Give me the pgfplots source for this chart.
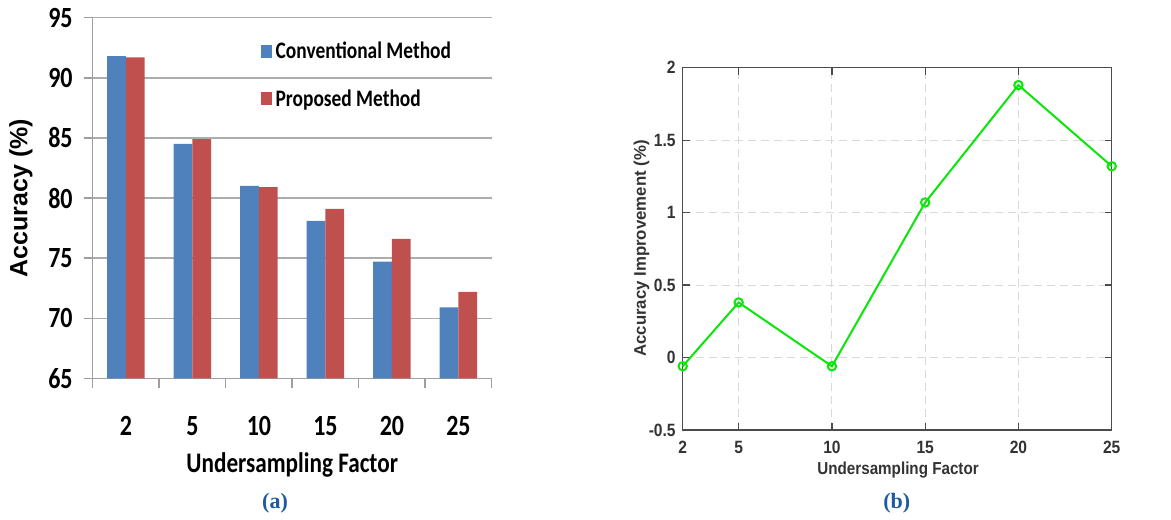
\documentclass[border=0pt]{standalone}
\usepackage{pgfplots}
\pgfplotsset{compat=1.18}
\usepackage{graphicx}
\usepackage{fontspec}
\newfontfamily\calfont{Carlito}
\newfontfamily\arialfont{Liberation Sans}
\newfontfamily\timesfont{Liberation Serif}
\newcommand{\tall}[1]{\scalebox{1}[1.22]{#1}}
\newcommand{\tallb}[1]{\scalebox{1}[1.14]{#1}}
\definecolor{xblue}{RGB}{79,129,189}
\definecolor{xred}{RGB}{192,80,77}
\definecolor{mgreen}{RGB}{10,230,10}
\definecolor{capblue}{RGB}{30,90,160}
\begin{document}
\begin{tikzpicture}
\path (0,0) rectangle (585.5pt,258pt);
% ---------------- left panel (a) ----------------
\begin{axis}[
  at={(46.35pt,68.85pt)}, anchor=south west,
  scale only axis, width=199.5pt, height=180.3pt,
  xmin=-0.5, xmax=5.5, ymin=65, ymax=95, enlargelimits=false,
  clip mode=individual,
  ytick={65,70,...,95},
  axis x line*=bottom, axis y line*=left,
  axis line style={draw=gray!75, line width=0.7pt, -},
  ymajorgrids, grid style={draw=gray!65, line width=0.7pt},
  xtick={-0.5,0.5,1.5,2.5,3.5,4.5,5.5},
  x tick label as interval,
  xticklabels={\tall{2},\tall{5},\tall{10},\tall{15},\tall{20},\tall{25}},
  tick style={draw=gray!75, line width=0.7pt},
  major tick length=4.5pt, tick align=outside,
  /pgf/number format/assume math mode=true,
  yticklabel={\tall{\pgfmathprintnumber{\tick}}},
  ticklabel style={font=\calfont\bfseries\fontsize{12}{14}\selectfont},
  yticklabel style={xshift=-2pt},
  xticklabel style={yshift=-11pt},
  xlabel={\tall{Undersampling Factor}},
  xlabel style={font=\calfont\bfseries\fontsize{11.6}{14}\selectfont, at={(axis description cs:0.5,-0.24)}, anchor=center},
  ylabel={Accuracy (\%)},
  ylabel style={font=\arialfont\bfseries\fontsize{12.5}{15}\selectfont, at={(axis description cs:-0.18,0.5)}, anchor=center},
  legend style={at={(0.42,0.945)}, anchor=north west, draw=none, fill=none,
    font=\calfont\bfseries\fontsize{9.7}{12}\selectfont, row sep=10pt, inner sep=0pt},
  legend cell align=left,
  legend image code/.code={\fill[#1] (0pt,-3pt) rectangle (5.5pt,3.5pt);},
]
\addplot[ybar, bar width=9.35pt, bar shift=-4.675pt, fill=xblue, draw=none]
  coordinates {(0,91.8) (1,84.5) (2,81.0) (3,78.1) (4,74.7) (5,70.9)};
\addplot[ybar, bar width=9.35pt, bar shift=4.675pt, fill=xred, draw=none]
  coordinates {(0,91.7) (1,84.9) (2,80.9) (3,79.1) (4,76.6) (5,72.2)};
\legend{\tall{Conventional Method},\tall{Proposed Method}}
% category separator tick marks below the x axis (axis decoration)
\pgfplotsinvokeforeach{-0.5,0.5,1.5,2.5,3.5,4.5,5.5}{
  \draw[gray!75, line width=0.7pt] (axis cs:#1,65) -- ++(0pt,-5pt);
}
\pgfplotsinvokeforeach{65,70,75,80,85,90,95}{
  \draw[gray!75, line width=0.7pt] (axis cs:-0.5,#1) -- ++(-3.5pt,0pt);
}
\end{axis}
\node[font=\timesfont\bfseries\fontsize{11}{13}\selectfont, text=capblue] at (137.5pt,6.5pt) {(a)};
% ---------------- right panel (b) ----------------
\begin{axis}[
  at={(341.35pt,43pt)}, anchor=south west,
  scale only axis, width=214.5pt, height=181.15pt,
  xmin=2, xmax=25, ymin=-0.5, ymax=2, enlargelimits=false,
  xtick={2,5,10,15,20,25},
  xticklabels={\tallb{2},\tallb{5},\tallb{10},\tallb{15},\tallb{20},\tallb{25}},
  ytick={-0.5,0,0.5,1,1.5,2},
  yticklabels={\tallb{-0.5},\tallb{0},\tallb{0.5},\tallb{1},\tallb{1.5},\tallb{2}},
  grid=major, grid style={dash pattern=on 4pt off 2.5pt, gray!30, line width=0.5pt},
  axis line style={draw=black!70, line width=0.6pt},
  tick style={draw=black!70, line width=0.6pt}, tick align=inside, major tick length=3.5pt,
  ticklabel style={font=\arialfont\bfseries\fontsize{7.8}{9}\selectfont, text=black!80},
  xticklabel style={yshift=-2pt},
  xlabel={\tallb{Undersampling Factor}},
  xlabel style={font=\arialfont\bfseries\fontsize{7.6}{9}\selectfont, text=black!80, at={(axis description cs:0.502,-0.11)}, anchor=center},
  ylabel={Accuracy Improvement (\%)},
  ylabel style={font=\arialfont\bfseries\fontsize{8.4}{10}\selectfont, text=black!80, at={(axis description cs:-0.096,0.501)}, anchor=center},
  clip=false,
]
\addplot[color=mgreen, line width=1pt, mark=o, mark size=2.1pt, mark options={line width=1pt}]
  coordinates {(2,-0.06) (5,0.38) (10,-0.06) (15,1.07) (20,1.88) (25,1.32)};
\end{axis}
\node[font=\timesfont\bfseries\fontsize{11}{13}\selectfont, text=capblue] at (448.35pt,6.5pt) {(b)};
\end{tikzpicture}
\end{document}
